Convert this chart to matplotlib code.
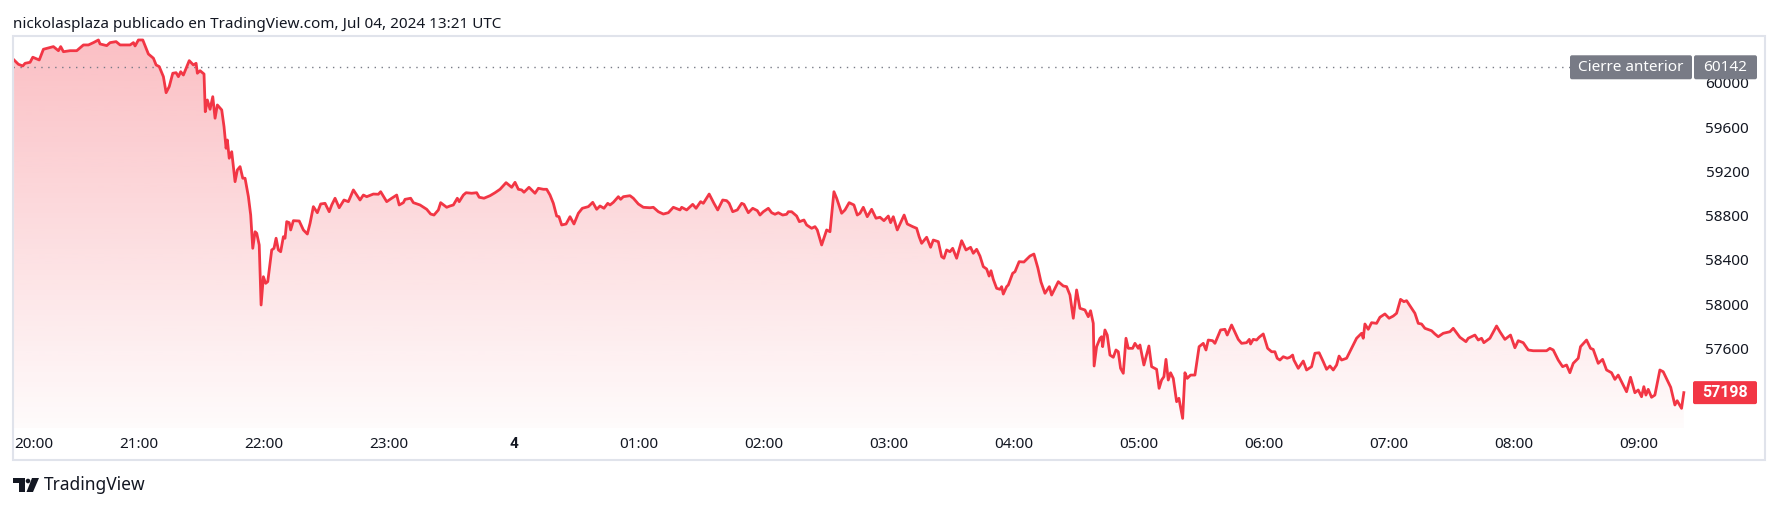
import matplotlib
matplotlib.use("Agg")
import matplotlib.pyplot as plt
import matplotlib.colors as mcolors
from matplotlib.patches import Rectangle, FancyBboxPatch, Polygon, Circle
import numpy as np

plt.rcParams['font.family'] = ['Noto Sans', 'DejaVu Sans']

# minutes after 20:00 (Jul 3) and price
minutes = [0.0, 2.1, 4.2, 5.3, 7.7, 9.0, 12.1, 14.1, 18.9, 21.3, 22.4, 23.7, 26.9, 30.1, 33.3,
           35.7, 38.1, 40.5, 41.3, 44.5, 46.1, 49.0, 50.9, 55.7, 57.3, 58.1, 59.7, 61.8, 64.5,
           66.9, 68.2, 69.7, 71.7, 73.0, 74.5, 76.2, 77.8, 78.9, 80.0, 81.3, 84.1, 86.1, 87.4,
           88.0, 89.3, 91.2, 91.8, 92.8, 94.1, 95.4, 96.5, 97.6, 99.7, 100.8, 101.8, 102.4,
           103.3, 104.5, 106.1, 107.2, 108.5, 109.8, 110.9, 112.5, 113.6, 114.6, 115.7, 116.5,
           117.7, 118.6, 119.7, 120.8, 121.8, 123.7, 124.8, 125.8, 126.9, 128.0, 129.3, 130.1,
           130.9, 132.1, 132.8, 134.1, 136.9, 138.9, 140.8, 142.1, 143.7, 145.6, 147.2, 149.3,
           151.3, 152.5, 154.1, 156.1, 158.4, 160.5, 162.9, 166.1, 167.7, 169.3, 172.5, 174.9,
           176.0, 178.9, 181.3, 183.7, 184.9, 186.9, 187.7, 190.4, 191.7, 194.9, 198.1, 200.0,
           201.6, 203.7, 204.8, 207.7, 209.3, 210.9, 212.8, 213.7, 215.7, 217.0, 219.7, 222.1,
           223.3, 225.6, 228.5, 230.9, 233.3, 236.2, 238.9, 240.5, 242.1, 243.7, 244.8, 247.2,
           250.1, 251.7, 254.1, 255.7, 257.3, 258.9, 260.5, 261.6, 262.9, 265.0, 266.9, 268.8,
           270.9, 272.8, 275.7, 277.8, 279.7, 281.3, 283.2, 285.0, 286.1, 287.7, 290.1, 291.2,
           292.5, 295.7, 297.3, 299.7, 302.1, 305.3, 306.9, 309.3, 311.7, 314.1, 316.5, 319.7,
           320.5, 322.9, 325.8, 327.4, 329.6, 330.9, 333.7, 336.0, 337.8, 340.2, 342.1, 343.3,
           345.0, 347.2, 349.3, 350.4, 352.5, 354.6, 356.8, 358.1, 359.7, 362.1, 363.7, 365.3,
           366.9, 369.0, 370.9, 371.7, 373.3, 375.7, 377.0, 379.2, 380.5, 382.9, 384.5, 385.6,
           387.7, 390.1, 391.7, 393.6, 394.9, 397.3, 398.9, 400.9, 403.2, 404.8, 406.1, 407.7,
           409.6, 411.7, 413.8, 415.7, 417.6, 419.7, 420.8, 422.1, 424.0, 427.3, 428.8, 431.4,
           433.3, 434.5, 435.7, 438.1, 440.0, 441.3, 443.7, 445.3, 446.4, 447.7, 449.3, 450.6,
           452.5, 454.9, 457.0, 459.2, 460.5, 462.1, 463.7, 465.3, 466.9, 468.1, 469.0, 470.1,
           471.7, 473.3, 474.1, 474.9, 476.5, 477.3, 479.4, 480.5, 482.5, 484.8, 487.7, 489.6,
           491.5, 493.0, 494.9, 497.0, 498.1, 501.3, 503.7, 505.3, 506.9, 508.5, 510.1, 511.7,
           514.1, 515.7, 516.8, 518.1, 518.5, 519.7, 521.3, 522.1, 522.6, 523.7, 524.8, 526.1,
           527.7, 529.0, 530.1, 531.2, 532.5, 533.8, 534.9, 537.0, 538.1, 539.7, 540.5, 542.4,
           544.8, 546.1, 548.5, 549.7, 550.9, 552.0, 553.0, 554.1, 555.2, 556.5, 558.1, 559.2,
           561.0, 562.1, 563.2, 564.8, 566.9, 568.9, 570.9, 572.2, 573.3, 575.4, 576.5, 579.2,
           581.3, 582.4, 584.5, 587.7, 589.3, 591.7, 593.0, 593.6, 594.9, 596.5, 597.7, 599.7,
           601.8, 603.7, 605.3, 606.4, 607.7, 609.3, 611.2, 612.5, 613.8, 614.4, 616.5, 618.9,
           620.5, 622.9, 624.5, 626.5, 628.5, 630.1, 631.7, 633.3, 634.9, 636.1, 637.3, 639.7,
           642.1, 644.5, 646.9, 647.7, 648.5, 650.1, 651.7, 654.1, 655.7, 658.1, 660.1, 662.1,
           663.7, 665.6, 667.2, 668.5, 670.9, 672.5, 674.1, 675.7, 677.3, 680.5, 682.1, 683.7,
           686.1, 689.3, 690.9, 694.1, 697.0, 698.1, 701.3, 702.9, 704.5, 705.6, 708.5, 711.7,
           713.3, 715.7, 718.4, 720.5, 722.1, 724.5, 726.9, 729.3, 735.7, 737.3, 738.9, 741.3,
           743.4, 745.3, 746.9, 748.5, 750.9, 752.0, 754.9, 756.8, 758.1, 760.5, 762.6, 764.5,
           766.9, 768.5, 770.1, 774.1, 776.0, 778.1, 779.7, 781.3, 782.4, 783.4, 784.5, 786.1,
           787.7, 790.1, 791.7, 793.6, 795.3, 797.3, 798.4, 800.5, 801.6]
prices = [60208, 60169, 60154, 60178, 60187, 60233, 60208, 60305, 60329, 60292, 60329, 60283,
          60292, 60292, 60344, 60344, 60365, 60389, 60353, 60338, 60365, 60374, 60344, 60344,
          60365, 60335, 60389, 60389, 60262, 60224, 60163, 60148, 60057, 59912, 59967, 60088,
          60093, 60057, 60102, 60072, 60202, 60163, 60178, 60088, 60111, 60081, 59740, 59846,
          59762, 59876, 59681, 59801, 59756, 59605, 59409, 59484, 59319, 59378, 59107, 59213,
          59243, 59138, 59138, 58972, 58806, 58504, 58654, 58640, 58534, 57991, 58247, 58187,
          58202, 58489, 58504, 58595, 58489, 58473, 58609, 58595, 58745, 58736, 58670, 58754,
          58751, 58670, 58633, 58730, 58881, 58826, 58905, 58911, 58835, 58896, 58957, 58871,
          58941, 58926, 59032, 58941, 58986, 58971, 58995, 58993, 59016, 58926, 58957, 58986,
          58896, 58917, 58947, 58957, 58917, 58896, 58857, 58814, 58805, 58851, 58917, 58875,
          58887, 58896, 58957, 58926, 58986, 59007, 59002, 59007, 58966, 58957, 58980, 59007,
          59038, 59098, 59056, 59101, 59038, 59032, 59011, 59056, 59002, 59047, 59038, 59038,
          58986, 58911, 58796, 58790, 58715, 58724, 58790, 58724, 58821, 58866, 58881, 58920,
          58857, 58887, 58866, 58911, 58896, 58920, 58971, 58947, 58971, 58980, 58957, 58905,
          58875, 58871, 58875, 58835, 58814, 58826, 58875, 58851, 58875, 58851, 58902, 58866,
          58926, 58911, 58995, 58911, 58851, 58941, 58935, 58911, 58835, 58851, 58911, 58902,
          58826, 58866, 58845, 58805, 58835, 58866, 58826, 58812, 58826, 58805, 58812, 58835,
          58835, 58796, 58745, 58760, 58715, 58685, 58700, 58670, 58534, 58670, 58654, 59016,
          58957, 58821, 58851, 58917, 58896, 58805, 58821, 58875, 58790, 58857, 58776, 58785,
          58754, 58796, 58736, 58790, 58670, 58805, 58724, 58700, 58685, 58609, 58549, 58604,
          58513, 58579, 58564, 58428, 58414, 58489, 58473, 58504, 58414, 58573, 58489, 58513,
          58459, 58495, 58434, 58338, 58317, 58253, 58301, 58223, 58142, 58133, 58157, 58090,
          58157, 58172, 58278, 58292, 58383, 58380, 58434, 58452, 58326, 58199, 58097, 58157,
          58081, 58202, 58163, 58157, 58081, 57871, 58127, 57961, 57946, 57885, 57939, 57825,
          57439, 57614, 57689, 57704, 57614, 57765, 57719, 57538, 57518, 57584, 57568, 57418,
          57373, 57690, 57599, 57599, 57644, 57599, 57629, 57448, 57620, 57433, 57409, 57237,
          57312, 57342, 57499, 57312, 57378, 57327, 57116, 57147, 56965, 57378, 57327, 57357,
          57357, 57614, 57644, 57584, 57674, 57668, 57644, 57765, 57771, 57719, 57810, 57680,
          57644, 57650, 57680, 57638, 57680, 57674, 57699, 57729, 57599, 57568, 57568, 57509,
          57493, 57523, 57509, 57518, 57538, 57493, 57418, 57484, 57403, 57433, 57554, 57559,
          57478, 57409, 57439, 57403, 57448, 57529, 57493, 57509, 57599, 57690, 57735, 57690,
          57819, 57771, 57831, 57825, 57880, 57910, 57871, 57891, 57916, 58042, 58021, 58030,
          57961, 57916, 57825, 57819, 57780, 57758, 57729, 57704, 57735, 57749, 57780, 57699,
          57659, 57690, 57719, 57674, 57690, 57650, 57690, 57801, 57749, 57680, 57719, 57604,
          57668, 57650, 57584, 57577, 57577, 57599, 57584, 57493, 57433, 57448, 57378, 57463,
          57509, 57614, 57674, 57599, 57589, 57463, 57499, 57403, 57378, 57318, 57357, 57206,
          57337, 57197, 57222, 57161, 57252, 57176, 57228, 57156, 57176, 57403, 57387, 57312,
          57246, 57086, 57125, 57056, 57198]

prev_close = 60142
price_ticks = [57600, 58000, 58400, 58800, 59200, 59600, 60000]
time_ticks = [0, 60, 120, 180, 240, 300, 360, 420, 480, 540, 600, 660, 720, 780]
time_labels = ["20:00", "21:00", "22:00", "23:00", "4", "01:00", "02:00", "03:00",
               "04:00", "05:00", "06:00", "07:00", "08:00", "09:00"]
title = "nickolasplaza publicado en TradingView.com, Jul 04, 2024 13:21 UTC"

RED = "#f23645"
GREY = "#787b86"
INK = "#131722"
W, H = 1778, 508

fig = plt.figure(figsize=(W / 100, H / 100), dpi=100, facecolor="white")

# pixel layout of the pane (top-left origin)
left, right, top, bottom = 13, 1693, 36, 428
ax = fig.add_axes([left / W, (H - bottom) / H, (right - left) / W, (bottom - top) / H])
xmin, xmax = -0.5, 806
ymin, ymax = 56878, 60425

# gradient area under the line
grad = np.zeros((256, 1, 4))
grad[..., :3] = mcolors.to_rgb(RED)
grad[..., 3] = np.linspace(0.32, 0.02, 256)[:, None]
im = ax.imshow(grad, aspect="auto", extent=[xmin, xmax, ymin, ymax], origin="upper",
               zorder=1, interpolation="bilinear")
area = ax.fill_between(minutes, prices, ymin, color="none", lw=0)
im.set_clip_path(area.get_paths()[0], transform=ax.transData)

ax.plot(minutes, prices, color=RED, lw=2.0, solid_joinstyle="round", zorder=3)
ax.axhline(prev_close, color=GREY, lw=1, linestyle=(0, (1, 4)), zorder=2)

ax.set_xlim(xmin, xmax)
ax.set_ylim(ymin, ymax)
for s in ax.spines.values():
    s.set_visible(False)

ax.set_xticks(time_ticks)
ax.set_xticklabels(time_labels)
ax.tick_params(axis="x", length=0, pad=6.5, labelsize=11, labelcolor=INK)
for lab in ax.get_xticklabels():
    if lab.get_text() == "4":
        lab.set_fontweight("bold")
        lab.set_family(["Roboto", "DejaVu Sans"])
    if lab.get_text() == "20:00":
        lab.set_ha("left")

ax.yaxis.tick_right()
ax.set_yticks(price_ticks)
ax.set_yticklabels([str(p) for p in price_ticks])
ax.tick_params(axis="y", length=0, pad=40.5, labelsize=11, labelcolor=INK)
for lab in ax.get_yticklabels():
    lab.set_ha("right")

# outer frame
fig.add_artist(Rectangle((13, H - 460), 1752, 424, transform=None, fill=False,
                         ec="#e0e3eb", lw=1.5))


def tag(x0, x1, yc, h, color, text, bold=False):
    box = FancyBboxPatch((x0, yc - h / 2), x1 - x0, h, boxstyle="round,pad=0,rounding_size=2",
                         transform=None, fc=color, ec="none", zorder=5)
    fig.add_artist(box)
    fam = ["Roboto", "DejaVu Sans"] if bold else ["Noto Sans", "DejaVu Sans"]
    t = fig.text((x0 + x1) / 2 / W, yc / H, text, color="white", ha="center", va="center",
                 fontsize=11.5 if bold else 11, fontweight="bold" if bold else "normal",
                 family=fam, zorder=6)
    return t


fig.canvas.draw()
y_prev = ax.transData.transform((0, prev_close))[1]
y_last = ax.transData.transform((0, prices[-1]))[1]
tag(1570, 1692, y_prev, 24, GREY, "Cierre anterior")
tag(1694, 1757, y_prev, 24, GREY, str(prev_close))
tag(1693, 1757, y_last, 23, RED, str(prices[-1]), bold=True)

fig.text(13 / W, (H - 24) / H, title, color=INK, fontsize=11, ha="left", va="center")

# TradingView logo
fig.add_artist(Polygon([(13, H - 478), (25, H - 478), (25, H - 492), (19, H - 492),
                        (19, H - 483), (13, H - 483)], closed=True, transform=None, fc=INK, ec="none"))
fig.add_artist(Circle((28, H - 481), 2.3, transform=None, fc=INK, ec="none"))
fig.add_artist(Polygon([(32, H - 478), (39, H - 478), (33, H - 492), (26.5, H - 492)],
                       closed=True, transform=None, fc=INK, ec="none"))
fig.text(44 / W, (H - 485) / H, "TradingView", color=INK, fontsize=12.5, ha="left", va="center")

fig.savefig("out.png", dpi=100, facecolor="white")
